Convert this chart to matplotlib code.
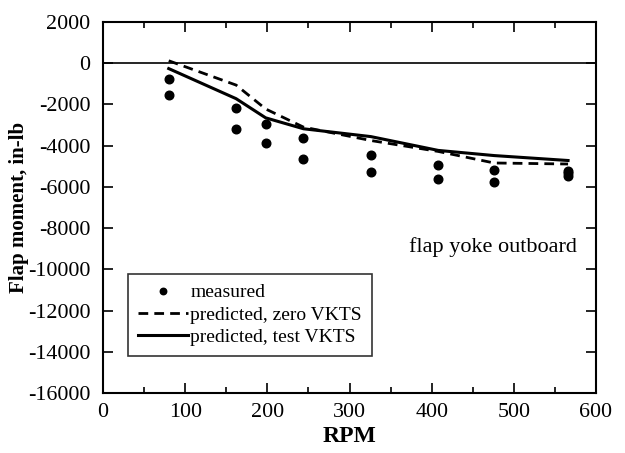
import matplotlib
matplotlib.use('Agg')
import matplotlib.pyplot as plt
from matplotlib.ticker import MultipleLocator

plt.rcParams['font.family'] = ['Liberation Serif', 'DejaVu Serif']
plt.rcParams['axes.unicode_minus'] = False

# measured points
meas_rpm = [80, 80, 162, 162, 198, 198, 244, 244, 326, 326, 408, 408, 476, 476, 566, 566, 566]
meas_moment = [-780, -1560, -2180, -3200, -2930, -3880, -3640, -4670, -4440, -5300,
               -4930, -5610, -5160, -5780, -5210, -5350, -5480]

# predictions
pred_rpm = [80, 162, 198, 244, 326, 408, 476, 566]
pred_zero = [120, -1060, -2220, -3100, -3750, -4280, -4840, -4890]
pred_test = [-260, -1720, -2650, -3180, -3560, -4230, -4480, -4720]

fig = plt.figure(figsize=(6.25, 4.53), dpi=100)
ax = fig.add_axes([0.1648, 0.1325, 0.7888, 0.8189])

ax.axhline(0, color='black', lw=1.2)
ax.plot(meas_rpm, meas_moment, 'o', color='black', ms=6.2, label='measured')
ax.plot(pred_rpm, pred_zero, '--', color='black', lw=2, dashes=(3.5, 2.2),
        label='predicted, zero VKTS')
ax.plot(pred_rpm, pred_test, '-', color='black', lw=2.2, label='predicted, test VKTS')

ax.set_xlim(0, 600)
ax.set_ylim(-16000, 2000)
ax.xaxis.set_major_locator(MultipleLocator(100))
ax.xaxis.set_minor_locator(MultipleLocator(50))
ax.yaxis.set_major_locator(MultipleLocator(2000))
ax.tick_params(which='both', direction='in', top=True, right=True, labelsize=15.8, width=1.2)
ax.tick_params(which='major', length=7, pad=9)
ax.tick_params(which='minor', length=4)
ax.tick_params(axis='x', which='major', pad=7)
for s in ax.spines.values():
    s.set_linewidth(1.5)

ax.set_xlabel('RPM', fontsize=17, fontweight='bold', labelpad=3)
ax.set_ylabel('Flap moment, in-lb', fontsize=15, fontweight='bold')
ax.yaxis.set_label_coords(-0.15, 0.5)

ax.text(373, -8930, 'flap yoke outboard', fontsize=16, va='center')

leg = ax.legend(loc='lower left', bbox_to_anchor=(0.0507, 0.0997), fontsize=14,
                frameon=True, fancybox=False, edgecolor='black', handlelength=2.6,
                handletextpad=0.1, borderpad=0.5, labelspacing=0.25, borderaxespad=0,
                markerscale=0.75)
leg.get_frame().set_linewidth(1.2)

fig.savefig('out.png', dpi=100)
